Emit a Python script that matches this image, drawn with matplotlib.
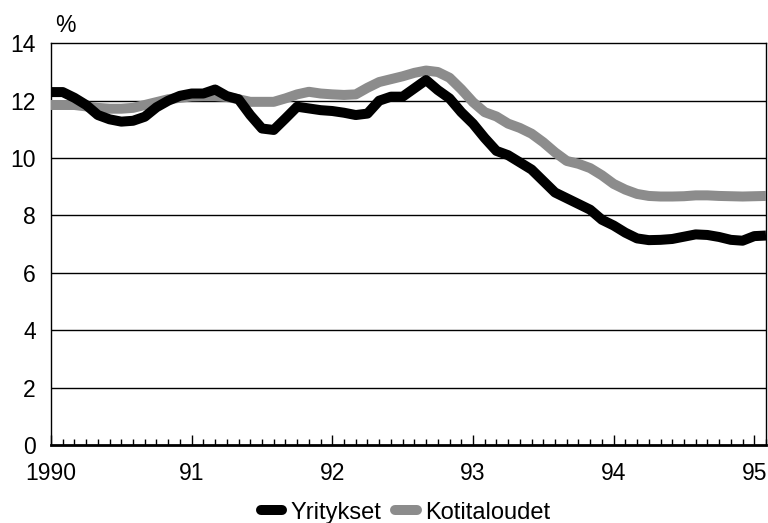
import numpy as np
import matplotlib
matplotlib.use("Agg")
import matplotlib.pyplot as plt

plt.rcParams['font.family'] = ['Liberation Sans', 'DejaVu Sans']

start_year = 1990
# Monthly values, Jan 1990 .. Feb 1995
yritykset = [12.3, 12.3, 12.1, 11.85, 11.5, 11.35, 11.27, 11.3, 11.44, 11.77, 12.0, 12.17,
             12.25, 12.25, 12.39, 12.16, 12.05, 11.5, 11.03, 10.98, 11.38, 11.79, 11.73, 11.67,
             11.64, 11.58, 11.5, 11.55, 12.0, 12.14, 12.14, 12.43, 12.72, 12.37, 12.08, 11.6,
             11.2, 10.7, 10.25, 10.1, 9.85, 9.6, 9.2, 8.8, 8.6, 8.4, 8.2, 7.85,
             7.65, 7.4, 7.2, 7.14, 7.15, 7.18, 7.26, 7.34, 7.32, 7.25, 7.15, 7.12,
             7.28, 7.3]
kotitaloudet = [11.85, 11.85, 11.85, 11.8, 11.75, 11.72, 11.72, 11.75, 11.85, 11.95, 12.05, 12.1,
                12.15, 12.16, 12.16, 12.13, 12.05, 11.96, 11.96, 11.96, 12.08, 12.22, 12.31, 12.25,
                12.22, 12.2, 12.22, 12.45, 12.65, 12.75, 12.85, 12.97, 13.05, 13.0, 12.8, 12.4,
                11.95, 11.6, 11.45, 11.2, 11.05, 10.85, 10.55, 10.2, 9.9, 9.8, 9.65, 9.4,
                9.1, 8.9, 8.75, 8.68, 8.66, 8.66, 8.67, 8.7, 8.7, 8.68, 8.67, 8.66,
                8.67, 8.68]
year_ticks = [1990, 1991, 1992, 1993, 1994, 1995]
year_labels = ['1990', '91', '92', '93', '94', '95']
y_ticks = [0, 2, 4, 6, 8, 10, 12, 14]
series_names = ['Yritykset', 'Kotitaloudet']

x = start_year + np.arange(len(yritykset)) / 12.0

fig = plt.figure(figsize=(7.68, 5.23), dpi=100)
ax = fig.add_axes([51/768, 1 - 445/523, 715/768, (445 - 43.3)/523])

for v in y_ticks[1:-1]:
    ax.axhline(v, color='black', lw=1.0, zorder=1)

l2, = ax.plot(x, kotitaloudet, color='#8c8c8c', lw=7.2, solid_capstyle='butt',
              solid_joinstyle='round', zorder=3, label=series_names[1])
l1, = ax.plot(x, yritykset, color='black', lw=7.2, solid_capstyle='butt',
              solid_joinstyle='round', zorder=4, label=series_names[0])

ax.set_xlim(x[0], x[-1])
ax.set_ylim(0, 14)
ax.set_yticks(y_ticks)
ax.set_yticklabels([str(v) for v in y_ticks])
ax.set_xticks(year_ticks)
ax.set_xticklabels(year_labels)
ax.set_xticks(start_year + np.arange(len(yritykset)) / 12.0, minor=True)

ax.tick_params(axis='y', length=0, pad=11, labelsize=16.5)
ax.tick_params(axis='x', which='major', direction='in', length=7, width=1.0, pad=12, labelsize=16.5)
ax.tick_params(axis='x', which='minor', direction='in', length=4, width=1.0)

for side in ['top', 'right', 'left']:
    ax.spines[side].set_linewidth(1.0)
ax.spines['bottom'].set_linewidth(2.0)

ax.text(0.02, 1.015, '%', transform=ax.transAxes, fontsize=16.5, ha='center', va='bottom')

leg = fig.legend(handles=[l1, l2], labels=series_names, loc='lower center',
                 bbox_to_anchor=(0.528, -0.042), ncol=2, frameon=False, fontsize=17,
                 handlelength=0.9, handletextpad=0.35, columnspacing=0.6)
for h in leg.legend_handles:
    h.set_solid_capstyle('round')

fig.savefig('out.png', dpi=100)
